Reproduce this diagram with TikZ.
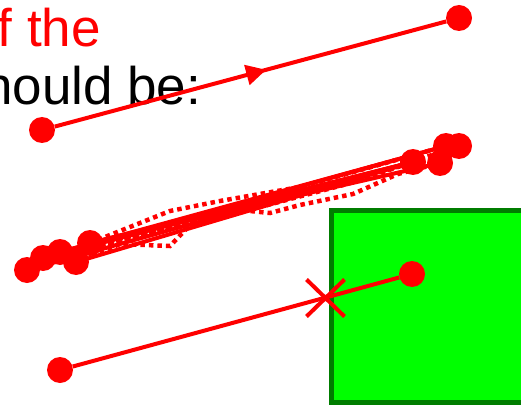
\documentclass[tikz,border=0pt]{standalone}
\usepackage{fontspec}
\setmainfont{Liberation Sans}
\usetikzlibrary{arrows.meta,decorations.markings,shapes.misc}
\definecolor{boxgreen}{RGB}{0,255,0}
\definecolor{edgegreen}{RGB}{0,125,0}
\begin{document}
\begin{tikzpicture}[x=1pt,y=-1pt,
  dot/.style={circle,fill=red,inner sep=0pt,minimum size=26pt},
  path/.style={draw=red,line width=4pt},
  dots/.style={draw=red,line width=4.5pt,dash pattern=on 4.5pt off 4pt},
  midarrow/.style={decoration={markings,
      mark=at position #1 with {\arrow{Triangle[length=20pt,width=20pt]}}},
    postaction={decorate}},
  label/.style={anchor=base west,inner sep=0pt,font=\fontsize{53}{60}\selectfont}]
\useasboundingbox (0,0) rectangle (521,406);

% heading text
\node[label,text=red] (t1) at (-2.5,47) {f the};
\node[label,text=black] (t2) at (-17,105) {hould be:};

% top directed segment
\node[dot] (a1) at (42,130) {};
\node[dot] (a2) at (459,18) {};
\draw[path,midarrow=0.54] (a1) -- (a2);

% green region
\draw[edgegreen,fill=boxgreen,line width=5pt] (331,210.5) rectangle (560,402);

% bundle of sampled segments
\node[dot] (l1) at (27,270) {};
\node[dot] (l2) at (43,258) {};
\node[dot] (l3) at (60,252) {};
\node[dot] (l4) at (76,262) {};
\node[dot] (l5) at (90,243) {};
\node[dot] (r1) at (413,162) {};
\node[dot] (r2) at (440,163) {};
\node[dot] (r3) at (446,146) {};
\node[dot] (r4) at (459,146) {};

\draw[dots] (l4.center) -- (120,244) -- (170,246) -- (190,225) -- (230,210) -- (300,194) -- (r1.center);
\draw[dots] (l5.center) -- (170,211) -- (220,201) -- (300,187) -- (r3.center);
\draw[dots] (l3.center) -- (150,232) -- (240,210) -- (270,213) -- (300,205) -- (353,194) -- (398,174) -- (r2.center);
\draw[dots] (l2.center) -- (140,236) -- (260,207) -- (347,184) -- (r1.center);
\draw[dots] (l1.center) -- (130,238) -- (280,199) -- (387,170) -- (r4.center);

\draw[path] (l5.center) -- (r1.center);
\draw[path] (l3.center) -- (r1.center);
\draw[path] (l2.center) -- (r1.center);
\draw[path] (l4.center) -- (r1.center);
\draw[path] (l1.center) -- (r1.center);
\draw[path] (l3.center) -- (r3.center);
\draw[path] (l2.center) -- (r3.center);
\draw[path] (l5.center) -- (r2.center);

% segment blocked at the region boundary
\node[dot] (b1) at (60,370) {};
\node[dot] (b2) at (412,274) {};
\draw[path] (b1) -- (b2);
\node[cross out,draw=red,line width=4pt,minimum width=34pt,minimum height=33pt,inner sep=0pt] (x) at (325.5,298) {};
\end{tikzpicture}
\end{document}
